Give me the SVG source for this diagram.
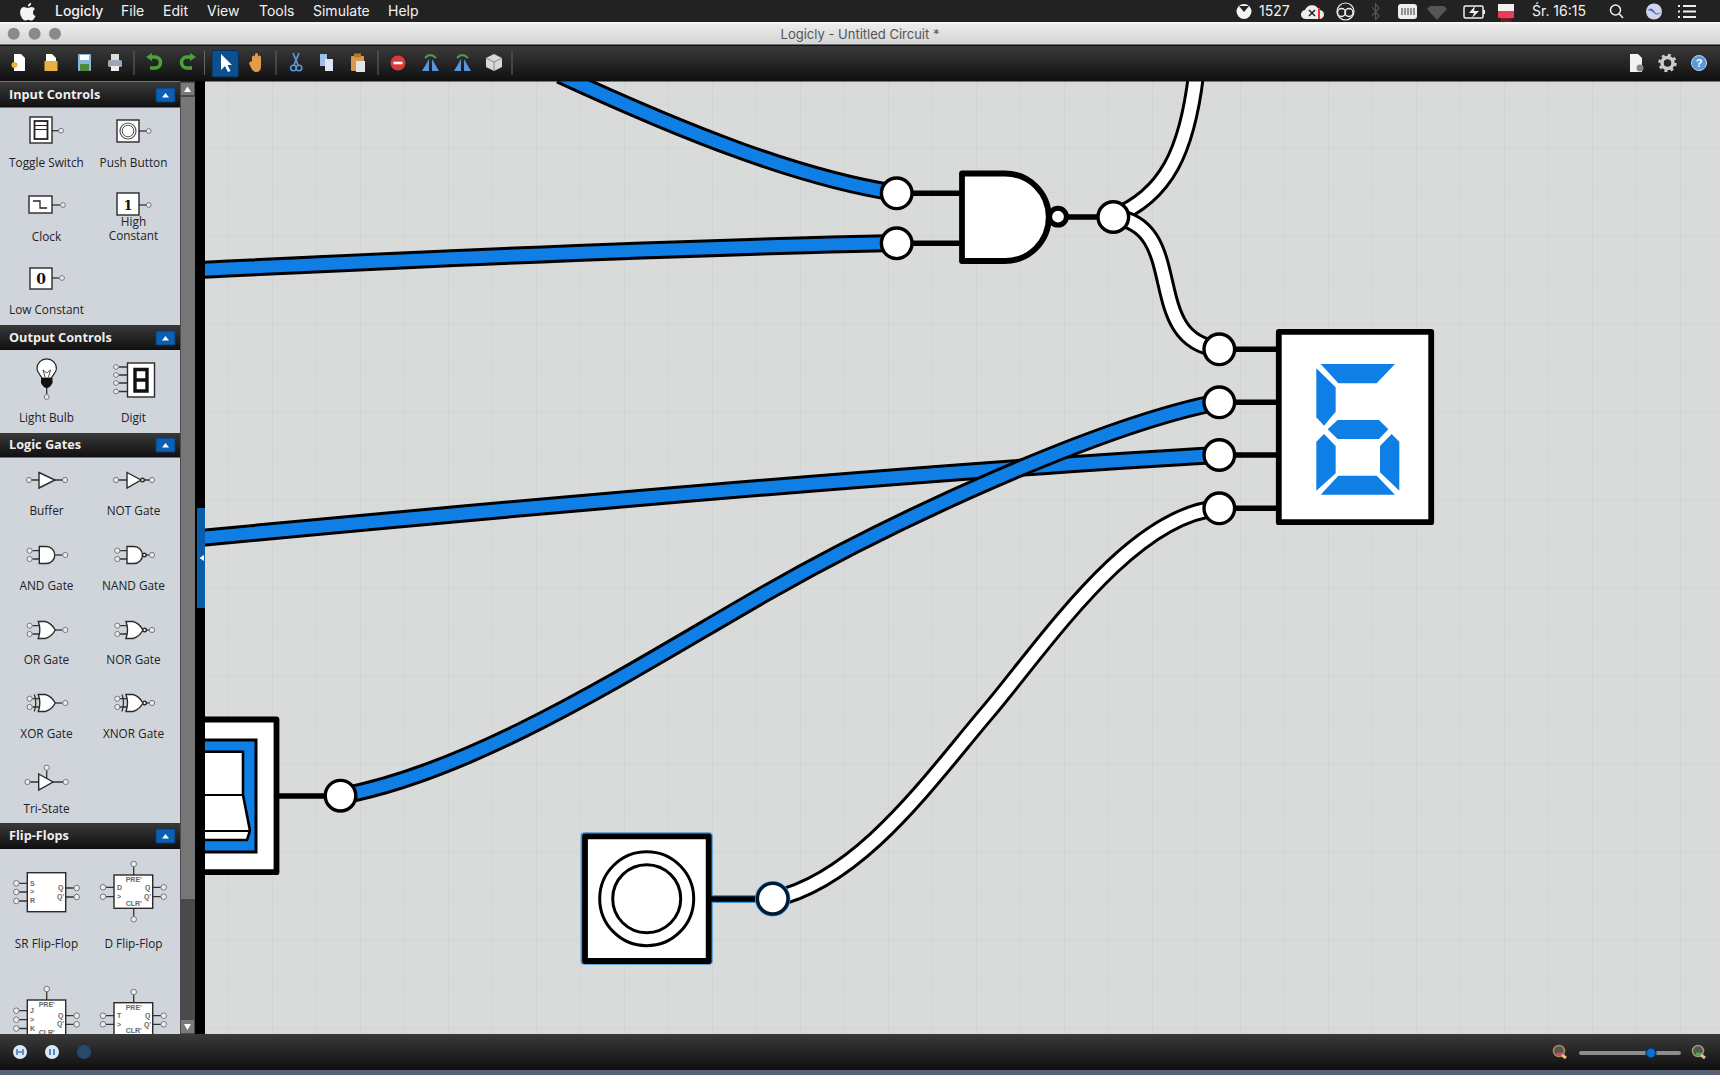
<svg xmlns="http://www.w3.org/2000/svg" width="1720" height="1075" viewBox="0 0 1720 1075">
<style>
text{font-family:"Open Sans","Liberation Sans",sans-serif}
.lb{font-size:11.800px;fill:#222;text-anchor:middle}
.hd{font-size:12.700px;font-weight:700;fill:#eee}
.mn{font-family:Inter,"Liberation Sans",sans-serif;font-size:14px;fill:#f2f2f2}
.w0{fill:none;stroke:#000;stroke-width:18}
.wb{fill:none;stroke:#0f7fe5;stroke-width:12}
.ww{fill:none;stroke:#fff;stroke-width:12}
.pin{fill:#fff;stroke:#000;stroke-width:3.4}
.lead{stroke:#000;stroke-width:5.5;fill:none}
.body{fill:#fff;stroke:#000;stroke-width:5.8;stroke-linejoin:round}
.seg{fill:#0f7fe5}
.ic{fill:#fff;stroke:#2a2a2a;stroke-width:1.4}
.il{stroke:#333;stroke-width:1.3;fill:none}
.ip{fill:#e9ecef;stroke:#777;stroke-width:1}
.ft{font-family:"Liberation Sans",sans-serif;font-size:7px;fill:#666;font-weight:700}
.sep{stroke:#666;stroke-width:1}
.hb{fill:#0b60b4;stroke:#083c72;stroke-width:1}
.tr{fill:#fff}
</style>
<defs>
<linearGradient id="gh" x1="0" y1="0" x2="0" y2="1"><stop offset="0" stop-color="#3a3a3a"/><stop offset="1" stop-color="#0f0f0f"/></linearGradient>
<linearGradient id="gt" x1="0" y1="0" x2="0" y2="1"><stop offset="0" stop-color="#ececec"/><stop offset="1" stop-color="#d2d3d3"/></linearGradient>
<pattern id="grid" patternUnits="userSpaceOnUse" x="228" y="147.5" width="44" height="44"><path d="M0 0V44M0 0H44" stroke="#cdcfcf" stroke-width="1.2" fill="none"/></pattern>
<g id="hbtn"><rect class="hb" x="0" y="0" width="19" height="14" rx="1"/><path class="tr" d="M6 9.5H13L9.5 5Z"/></g>
<g id="pinL"><path class="il" d="M-7 -4.3H0M-7 4H0"/><circle class="ip" cx="-9.7" cy="-4.3" r="2.6"/><circle class="ip" cx="-9.7" cy="4" r="2.6"/></g>
<g id="and"><use href="#pinL"/><path class="il" d="M16 0H23"/><circle class="ip" cx="26" cy="0" r="2.6"/><path class="ic" d="M0 -8.5H7A8.5 8.5 0 0 1 7 8.5H0Z"/></g>
<g id="nand"><use href="#pinL"/><path class="il" d="M18 0H22"/><circle class="ip" cx="25" cy="0" r="2.6"/><path class="ic" d="M0 -8.5H7A8.5 8.5 0 0 1 7 8.5H0Z"/><circle class="ic" cx="17.3" cy="0" r="1.8"/></g>
<path id="orb" class="ic" d="M-1 -8.5H6Q12 -7 16 0Q12 7 6 8.5H-1Q2 0 -1 -8.5Z"/>
<g id="or"><use href="#pinL"/><path class="il" d="M16 0H23"/><circle class="ip" cx="26" cy="0" r="2.6"/><use href="#orb"/></g>
<g id="nor"><use href="#pinL"/><path class="il" d="M19 0H22"/><circle class="ip" cx="25" cy="0" r="2.6"/><use href="#orb"/><circle class="ic" cx="17.6" cy="0" r="1.8"/></g>
<g id="xor"><use href="#or"/><path class="il" d="M-5 -8.5Q-2 0 -5 8.5"/></g>
<g id="xnor"><use href="#nor"/><path class="il" d="M-5 -8.5Q-2 0 -5 8.5"/></g>
</defs>

<rect x="0" y="0" width="1720" height="1075" fill="#5a6276"/>
<rect id="canvas" x="205" y="81" width="1515" height="953" fill="#d9dbdb"/>
<rect x="205" y="81" width="1515" height="953" fill="url(#grid)"/>

<g id="connectors">
<path class="w0" d="M560 75C690 135 800 178 896 193"/><path class="wb" d="M560 75C690 135 800 178 896 193"/>
<path class="w0" d="M200 270C500 255 700 247 896 243"/><path class="wb" d="M200 270C500 255 700 247 896 243"/>
<path class="w0" d="M1113 217C1167 195 1187 150 1196 75"/><path class="ww" d="M1113 217C1167 195 1187 150 1196 75"/>
<path class="w0" d="M1113 217C1190 225 1140 340 1219 349"/><path class="ww" d="M1113 217C1190 225 1140 340 1219 349"/>
<path class="w0" d="M200 538C600 500 950 470 1219 455"/><path class="wb" d="M200 538C600 500 950 470 1219 455"/>
<path class="w0" d="M341 796C480 770 640 665 768 592C896 519 1100 425 1219 402"/><path class="wb" d="M341 796C480 770 640 665 768 592C896 519 1100 425 1219 402"/>
<path class="w0" d="M773 899C860 880 930 780 987 713S1130 515 1219 508"/><path class="ww" d="M773 899C860 880 930 780 987 713S1130 515 1219 508"/>
</g>

<g id="nand-gate">
<path class="lead" d="M912 193.300H964M912 243.300H964M1066 217H1100"/>
<path class="body" d="M962 173.500H1005A43.700 43.700 0 0 1 1005 261H962Z"/>
<circle cx="1058" cy="216.700" r="8.400" fill="#fff" stroke="#000" stroke-width="5"/>
<circle class="pin" cx="896.700" cy="193.300" r="15.300"/>
<circle class="pin" cx="896.700" cy="243.300" r="15.300"/>
<circle class="pin" cx="1113.300" cy="217" r="15.300"/>
</g>

<g id="digit">
<path class="lead" d="M1234 349.300H1280M1234 402.300H1280M1234 455H1280M1234 508.300H1280"/>
<rect class="body" x="1278.800" y="331.800" width="152.400" height="190.400"/>
<g transform="translate(1180 310) scale(.33333)">
<polygon class="seg" points="422,162 645,162 590,220 475,220"/>
<polygon class="seg" points="409,175 467,232 467,305 432,347 409,322"/>
<polygon class="seg" points="443,358 473,330 597,330 625,358 597,387 473,387"/>
<polygon class="seg" points="432,372 467,408 467,490 409,542 409,395"/>
<polygon class="seg" points="635,372 658,395 658,542 600,487 600,408"/>
<polygon class="seg" points="475,497 590,497 645,554 422,554"/>
</g>
<circle class="pin" cx="1219.300" cy="349.300" r="15.300"/>
<circle class="pin" cx="1219.300" cy="402.300" r="15.300"/>
<circle class="pin" cx="1219.300" cy="455" r="15.300"/>
<circle class="pin" cx="1219.300" cy="508.300" r="15.300"/>
</g>

<g id="toggle-switch">
<path class="lead" d="M276 796H325"/>
<rect class="body" x="180" y="719.500" width="96.500" height="152.700"/>
<rect x="180" y="740" width="76" height="112" fill="#0f7fe5" stroke="#000" stroke-width="3"/>
<path d="M180 751.700H243V795L250 830.700L247 840H180Z" fill="#fff" stroke="#000" stroke-width="2.600" stroke-linejoin="round"/>
<path d="M180 795H243M180 831H250" stroke="#000" stroke-width="2" fill="none"/>
<circle class="pin" cx="340.500" cy="795.700" r="15.300"/>
</g>

<g id="push-button">
<path d="M712 899H757" stroke="#3f95e0" stroke-width="8"/>
<rect x="581.300" y="833" width="130.700" height="131" rx="3" fill="none" stroke="#3f95e0" stroke-width="1.500"/>
<path class="lead" d="M708 899H757"/>
<rect class="body" x="585" y="836.300" width="123.700" height="124.700" stroke-width="6"/>
<circle cx="646.700" cy="898.700" r="47" fill="#fff" stroke="#000" stroke-width="3"/>
<circle cx="646.700" cy="898.700" r="34" fill="#fff" stroke="#000" stroke-width="3"/>
<circle cx="772.700" cy="898.700" r="17" fill="none" stroke="#3f95e0" stroke-width="1.500"/>
<circle class="pin" cx="772.700" cy="898.700" r="15.300" style="stroke:#001a33"/>
</g>

<g id="sidebar">
<rect x="0" y="81" width="180" height="953" fill="#d0d5dc"/>
<rect x="180" y="81" width="15" height="953" fill="#4a4a4a"/>
<rect x="181" y="83" width="13" height="12" fill="#7a7a7a"/><path class="tr" d="M184 92H191L187.500 86.500Z"/>
<rect x="181" y="97" width="14" height="802" fill="#767676"/>
<rect x="181" y="1020" width="13" height="13" fill="#7a7a7a"/><path class="tr" d="M184 1024H191L187.500 1030Z"/>
<rect x="195" y="81" width="10" height="953" fill="#000"/>
<rect x="197" y="508" width="8" height="100" fill="#0b5cab"/><path class="tr" d="M204 555V561L199.500 558Z"/>

<rect x="0" y="82" width="180" height="25.500" fill="url(#gh)"/>
<rect x="0" y="325" width="180" height="25" fill="url(#gh)"/>
<rect x="0" y="433" width="180" height="24.500" fill="url(#gh)"/>
<rect x="0" y="823" width="180" height="26" fill="url(#gh)"/>
<text class="hd" x="9" y="99">Input Controls</text>
<text class="hd" x="9" y="342">Output Controls</text>
<text class="hd" x="9" y="449">Logic Gates</text>
<text class="hd" x="9" y="840">Flip-Flops</text>
<use href="#hbtn" x="156" y="88"/><use href="#hbtn" x="156" y="331"/><use href="#hbtn" x="156" y="438"/><use href="#hbtn" x="156" y="829"/>

<g id="pal-toggle"><path class="il" d="M52 130.700H59"/><circle class="ip" cx="61" cy="130.700" r="2.400"/><rect class="ic" x="30" y="117" width="22" height="26"/><rect x="34.500" y="121" width="13" height="18" fill="#fff" stroke="#222" stroke-width="1.800"/><path d="M35 125.500H47M35 129.500H47" stroke="#222" stroke-width="1.200"/></g>
<g id="pal-push"><path class="il" d="M139 131H146"/><circle class="ip" cx="148.700" cy="131" r="2.400"/><rect class="ic" x="117" y="120" width="22" height="22"/><circle cx="128" cy="131" r="8" fill="#fff" stroke="#555" stroke-width="1.200"/><circle cx="128" cy="131" r="5.800" fill="#fff" stroke="#555" stroke-width="1"/></g>
<g id="pal-clock"><path class="il" d="M52 205H60"/><circle class="ip" cx="63" cy="205" r="2.400"/><rect class="ic" x="29" y="196" width="23" height="17"/><path d="M33 201H40V208H47" fill="none" stroke="#222" stroke-width="1.300"/></g>
<g id="pal-high"><path class="il" d="M139 205H146"/><circle class="ip" cx="148.700" cy="205" r="2.400"/><rect class="ic" x="117" y="193" width="22" height="22"/><text x="128" y="209.500" text-anchor="middle" style="font-family:'DejaVu Serif',serif;font-weight:700;font-size:13px" fill="#111">1</text></g>
<g id="pal-low"><path class="il" d="M52 278H59"/><circle class="ip" cx="62" cy="278" r="2.400"/><rect class="ic" x="30" y="268" width="22" height="21"/><text x="41" y="283.500" text-anchor="middle" style="font-family:'DejaVu Serif',serif;font-weight:700;font-size:14px" fill="#111">0</text></g>
<g id="pal-bulb"><path class="il" d="M46.700 386V394"/><circle class="ip" cx="46.700" cy="397" r="2.400"/><path d="M42 378C39 373 37 372 37 368.500A9.700 9.700 0 0 1 56.400 368.500C56.400 372 54 373 51.400 378Z" fill="#fff" stroke="#222" stroke-width="1.200"/><path d="M43 370L45 377M50.500 370L48.500 377M43 370L46.700 373L50.500 370" stroke="#222" stroke-width=".8" fill="none"/><path d="M41 378H52.500V383Q50 388 46.700 388Q43.500 388 41 383Z" fill="#111"/></g>
<g id="pal-digit"><path class="il" d="M119 367H127M119 375H127M119 383H127M119 391.500H127"/><circle class="ip" cx="116" cy="367" r="2.400"/><circle class="ip" cx="116" cy="375" r="2.400"/><circle class="ip" cx="116" cy="383" r="2.400"/><circle class="ip" cx="116" cy="391.500" r="2.400"/><rect class="ic" x="127.500" y="363" width="27" height="34"/><path d="M135 369.500H147V391H135ZM135 380H147" fill="none" stroke="#111" stroke-width="3.400"/></g>

<g id="pal-buffer"><path class="il" d="M31 480H39M55 480H63"/><circle class="ip" cx="29" cy="480" r="2.600"/><circle class="ip" cx="65" cy="480" r="2.600"/><path class="ic" d="M39 472.500L55 480L39 488Z"/></g>
<g id="pal-not"><path class="il" d="M118 480H127M144 480H150"/><circle class="ip" cx="116" cy="480" r="2.600"/><circle class="ip" cx="152" cy="480" r="2.600"/><path class="ic" d="M127 472.500L141 480L127 488Z"/><circle class="ic" cx="142.500" cy="480" r="1.800"/></g>
<use href="#and" x="39.300" y="555"/><use href="#nand" x="127" y="555"/>
<use href="#or" x="39.300" y="630"/><use href="#nor" x="127" y="630"/>
<use href="#xor" x="39.300" y="703"/><use href="#xnor" x="127" y="703"/>
<g id="pal-tristate"><path class="il" d="M30 782H39M53 782H63M46.700 770V778"/><circle class="ip" cx="27.500" cy="782" r="2.600"/><circle class="ip" cx="65.700" cy="782" r="2.600"/><circle class="ip" cx="46.700" cy="767.700" r="2.600"/><path class="ic" d="M38.700 774L53 782L38.700 790Z"/></g>

<g id="pal-sr"><path class="il" d="M19 883.300H27M19 892H27M19 901H27M66 888H74M66 897H74"/><circle class="ip" cx="16.300" cy="883.300" r="2.800"/><circle class="ip" cx="16.300" cy="892" r="2.800"/><circle class="ip" cx="16.300" cy="901" r="2.800"/><circle class="ip" cx="76.700" cy="888" r="2.800"/><circle class="ip" cx="76.700" cy="897" r="2.800"/><rect class="ic" x="27.300" y="872.700" width="38.400" height="39"/>
<text class="ft" x="30" y="886">S</text><text class="ft" x="30" y="894">&gt;</text><text class="ft" x="30" y="903">R</text><text class="ft" x="58" y="890">Q</text><text class="ft" x="57" y="899">Q'</text></g>
<g id="pal-d"><path class="il" d="M106 887.300H114M106 896.700H114M153 887.300H161M153 896.700H161M133.700 866V875M133.700 908V917"/><circle class="ip" cx="103" cy="887.300" r="2.800"/><circle class="ip" cx="103" cy="896.700" r="2.800"/><circle class="ip" cx="163.700" cy="887.300" r="2.800"/><circle class="ip" cx="163.700" cy="896.700" r="2.800"/><circle class="ip" cx="133.700" cy="864" r="2.800"/><circle class="ip" cx="133.700" cy="919.300" r="2.800"/><rect class="ic" x="114" y="875" width="38.700" height="33.300"/>
<text class="ft" x="117" y="890">D</text><text class="ft" x="117" y="899">&gt;</text><text class="ft" x="145" y="890">Q</text><text class="ft" x="144" y="899">Q'</text><text class="ft" x="133.700" y="882" text-anchor="middle">PRE'</text><text class="ft" x="133.700" y="906" text-anchor="middle">CLR'</text></g>
<g id="pal-jk"><path class="il" d="M19 1010.700H27M19 1019.700H27M19 1028.500H27M66 1015.700H74M66 1024.300H74M46.700 991V1000"/><circle class="ip" cx="16.300" cy="1010.700" r="2.800"/><circle class="ip" cx="16.300" cy="1019.700" r="2.800"/><circle class="ip" cx="16.300" cy="1028.500" r="2.800"/><circle class="ip" cx="76.700" cy="1015.700" r="2.800"/><circle class="ip" cx="76.700" cy="1024.300" r="2.800"/><circle class="ip" cx="46.700" cy="989" r="2.800"/><rect class="ic" x="27.300" y="1000" width="38.400" height="45"/>
<text class="ft" x="30" y="1013">J</text><text class="ft" x="30" y="1022">&gt;</text><text class="ft" x="30" y="1031">K</text><text class="ft" x="58" y="1018">Q</text><text class="ft" x="57" y="1026">Q'</text><text class="ft" x="46.700" y="1007" text-anchor="middle">PRE'</text><text class="ft" x="46.700" y="1035" text-anchor="middle">CLR'</text></g>
<g id="pal-t"><path class="il" d="M106 1015.700H114M106 1024.300H114M153 1015.700H161M153 1024.300H161M133.700 994V1003"/><circle class="ip" cx="103" cy="1015.700" r="2.800"/><circle class="ip" cx="103" cy="1024.300" r="2.800"/><circle class="ip" cx="163.700" cy="1015.700" r="2.800"/><circle class="ip" cx="163.700" cy="1024.300" r="2.800"/><circle class="ip" cx="133.700" cy="992" r="2.800"/><rect class="ic" x="114" y="1002.700" width="38.700" height="42"/>
<text class="ft" x="117" y="1018">T</text><text class="ft" x="117" y="1027">&gt;</text><text class="ft" x="145" y="1018">Q</text><text class="ft" x="144" y="1027">Q'</text><text class="ft" x="133.700" y="1010" text-anchor="middle">PRE'</text><text class="ft" x="133.700" y="1033" text-anchor="middle">CLR'</text></g>

<text class="lb" x="46.500" y="167">Toggle Switch</text>
<text class="lb" x="133.500" y="167">Push Button</text>
<text class="lb" x="46.500" y="240.500">Clock</text>
<text class="lb" x="133.500" y="225.500">High</text>
<text class="lb" x="133.500" y="240">Constant</text>
<text class="lb" x="46.500" y="314">Low Constant</text>
<text class="lb" x="46.500" y="421.500">Light Bulb</text>
<text class="lb" x="133.500" y="421.500">Digit</text>
<text class="lb" x="46.500" y="515">Buffer</text>
<text class="lb" x="133.500" y="515">NOT Gate</text>
<text class="lb" x="46.500" y="589.500">AND Gate</text>
<text class="lb" x="133.500" y="589.500">NAND Gate</text>
<text class="lb" x="46.500" y="664">OR Gate</text>
<text class="lb" x="133.500" y="664">NOR Gate</text>
<text class="lb" x="46.500" y="738">XOR Gate</text>
<text class="lb" x="133.500" y="738">XNOR Gate</text>
<text class="lb" x="46.500" y="813">Tri-State</text>
<text class="lb" x="46.500" y="948">SR Flip-Flop</text>
<text class="lb" x="133.500" y="948">D Flip-Flop</text>
</g>

<g id="menubar">
<rect x="0" y="0" width="1720" height="22" fill="#222"/>
<path fill="#f4f4f4" d="M24 7c1.500 0 2.300.9 3.800.9s2.400-.9 3.800-.9c1.400 0 2.700.8 3.400 2c-3 1.800-2.500 5.800.5 7c-.7 2-2.300 4.500-3.800 4.500c-1.300 0-1.800-.8-3.300-.8s-2.100.8-3.300.8c-2 0-5-4.500-5-8c0-3.700 2.300-5.500 4.100-5.500zM27.800 6.500c0-2 1.500-3.500 3.400-3.800c.2 2-1.400 3.800-3.400 3.800z"/>
<text class="mn" x="55" y="16" font-weight="500">Logicly</text>
<text class="mn" x="121" y="16">File</text>
<text class="mn" x="163" y="16">Edit</text>
<text class="mn" x="207" y="16">View</text>
<text class="mn" x="259" y="16">Tools</text>
<text class="mn" x="313" y="16">Simulate</text>
<text class="mn" x="388" y="16">Help</text>
<circle cx="1244" cy="11.500" r="7.500" fill="#f2f2f2"/><path d="M1239 6L1244 12L1249 6Z" fill="#222"/>
<text class="mn" x="1259" y="16">1527</text>
<path d="M1306 19A4.500 4.500 0 0 1 1305 10A7.500 7.500 0 0 1 1319 10A4.500 4.500 0 0 1 1320 19Z" fill="#eee"/><path d="M1309 10L1315 16M1315 10L1309 16" stroke="#222" stroke-width="1.500"/><path d="M1319 8V19" stroke="#e33" stroke-width="2"/>
<g fill="none" stroke="#eee" stroke-width="1.500"><circle cx="1341.500" cy="12.500" r="4"/><circle cx="1349" cy="12.500" r="4"/><circle cx="1345.500" cy="11.500" r="8.500" stroke-width="1.200"/></g>
<path d="M1372 7L1379 16L1375.500 19.500V4L1379 8L1372 16" fill="none" stroke="#555" stroke-width="1.200"/>
<rect x="1398" y="4" width="19" height="15" rx="3" fill="#eee"/><path d="M1402 8V15M1405 8V15M1408 8V15M1411 8V15M1414 8V15" stroke="#333" stroke-width="1"/>
<path d="M1430 6H1444L1447 9L1437 20L1427 9Z" fill="#555"/>
<rect x="1464" y="6" width="19" height="12" rx="1.500" fill="none" stroke="#eee" stroke-width="1.500"/><rect x="1483" y="10" width="2" height="4" fill="#eee"/><path d="M1475 6L1469 13H1474L1472 18L1479 11H1474Z" fill="#eee"/>
<rect x="1498" y="4" width="16" height="7" fill="#f0f0f0"/><rect x="1498" y="11" width="16" height="7" fill="#ea3a5a"/>
<text x="1506" y="22" text-anchor="middle" style="font-family:'Liberation Sans',sans-serif;font-size:5px" fill="#c22">PRO</text>
<text class="mn" x="1532" y="16">Śr. 16:15</text>
<circle cx="1615.500" cy="10" r="5" fill="none" stroke="#eee" stroke-width="1.500"/><path d="M1619 13.500L1623 18" stroke="#eee" stroke-width="1.500"/>
<circle cx="1654" cy="11.500" r="8" fill="#cfd6ec"/><path d="M1647 11Q1651 6 1654 11T1661 11Q1658 17 1654 13T1647 11Z" fill="#4a5fb8"/>
<path d="M1678 6H1680M1678 11.500H1680M1678 17H1680M1683 6H1696M1683 11.500H1696M1683 17H1696" stroke="#eee" stroke-width="2"/>
</g>

<g id="titlebar">
<rect x="0" y="22" width="1720" height="2" fill="#f6f6f6"/>
<rect x="0" y="24" width="1720" height="21" fill="url(#gt)"/>
<rect x="0" y="44.500" width="1720" height="1.500" fill="#111"/>
<circle cx="13.700" cy="33.700" r="6" fill="#8a8a8a"/><circle cx="34.600" cy="33.700" r="6" fill="#8a8a8a"/><circle cx="55" cy="33.700" r="6" fill="#8a8a8a"/>
<text x="860" y="38.500" text-anchor="middle" style="font-family:Inter,'Liberation Sans',sans-serif;font-size:13px" fill="#555">Logicly - Untitled Circuit *</text>
</g>

<g id="toolbar">
<rect x="0" y="46" width="1720" height="35.500" fill="url(#gh)"/>
<path class="sep" d="M134 51V75M204.500 51V75M276 51V75M378 51V75M512 51V75"/>
<path d="M14 54H21L25 58V71H14Z" fill="#fff"/><circle cx="14.500" cy="65" r="3" fill="#e9b43c"/>
<path d="M46 54H52L56 58V61H46Z" fill="#fff"/><rect x="44.500" y="61" width="13" height="10" fill="#e8b040"/>
<rect x="78" y="54" width="13" height="17" rx="1" fill="#8db4dc"/><rect x="80" y="55" width="9" height="5" fill="#fff"/><rect x="80" y="64" width="9" height="7" fill="#4f8a3c"/>
<path d="M111 54H119V60H111Z" fill="#ddd"/><rect x="108" y="60" width="14" height="7" rx="1.500" fill="#9aa8b8"/><rect x="111" y="66" width="8" height="5" fill="#eee"/>
<path d="M150 57H155A5.500 5.500 0 0 1 155 68H150" fill="none" stroke="#4ca23a" stroke-width="3.500"/><path d="M146 57L152 53V61Z" fill="#4ca23a"/>
<path d="M192 57H187A5.500 5.500 0 0 0 187 68H192" fill="none" stroke="#4ca23a" stroke-width="3.500"/><path d="M196 57L190 53V61Z" fill="#4ca23a"/>
<rect x="212" y="50.500" width="26.500" height="26.500" rx="2" fill="#0d4f8f" stroke="#072e57"/>
<path d="M221 54V70L225 66L228 72L230.500 71L227.500 65H232Z" fill="#fff"/>
<path d="M252 62V57a1.500 1.500 0 0 1 3 0V54.500a1.500 1.500 0 0 1 3 0V57a1.500 1.500 0 0 1 3 0V66Q261 72 256 72Q252 72 249 63Q251 60 252 62Z" fill="#e39a4a"/>
<path d="M299 53L294 65M293 53L298 65" stroke="#5a95d5" stroke-width="1.800"/><circle cx="293.500" cy="68" r="2.800" fill="none" stroke="#5a95d5" stroke-width="1.600"/><circle cx="299" cy="68" r="2.800" fill="none" stroke="#5a95d5" stroke-width="1.600"/>
<path d="M320 54H327V66H320Z" fill="#9dc0e8"/><path d="M325 59H333V71H325Z" fill="#dbe7f5"/>
<rect x="351" y="56" width="13" height="15" rx="1" fill="#d89a4a"/><rect x="354" y="53.500" width="7" height="4" fill="#b9782f"/><rect x="356" y="61" width="9" height="11" fill="#dfe5ea"/>
<circle cx="398" cy="63" r="7.500" fill="#d93a3a"/><rect x="393.500" y="61.700" width="9" height="2.600" fill="#fff"/>
<path d="M422 71L429 59V71ZM432 59L439 71H432Z" fill="#5a95d5"/><path d="M425 58Q430 52 436 58" fill="none" stroke="#4ca23a" stroke-width="2"/>
<path d="M454 71L461 59V71ZM464 59L471 71H464Z" fill="#5a95d5"/><path d="M457 58Q462 52 468 58" fill="none" stroke="#4ca23a" stroke-width="2"/>
<path d="M494 54L502 58V67L494 71L486 67V58Z" fill="#d8d8d8"/><path d="M486 58L494 62L502 58M494 62V71" stroke="#888" fill="none"/>
<path d="M1630 54H1638L1642 58V72H1630Z" fill="#f2f2f2"/><circle cx="1640" cy="68" r="3.500" fill="#888"/>
<circle cx="1667.500" cy="63" r="5.500" fill="none" stroke="#ccc" stroke-width="3.500"/><circle cx="1667.500" cy="63" r="8" fill="none" stroke="#ccc" stroke-width="2.500" stroke-dasharray="3 3.300"/>
<circle cx="1699" cy="63" r="7.500" fill="#5a9ad8" stroke="#b9d6f2"/><text x="1699" y="67" text-anchor="middle" style="font-family:'Liberation Sans',sans-serif;font-weight:700;font-size:11px" fill="#fff">?</text>
</g>

<g id="statusbar">
<rect x="0" y="1034" width="1720" height="36" fill="url(#gh)"/>
<circle cx="20" cy="1052" r="7" fill="#dbe8f6"/><path d="M17 1049V1055M23 1049V1055M17 1052H23" stroke="#4a7ec0" stroke-width="1.600"/>
<circle cx="52" cy="1052" r="7" fill="#dbe8f6"/><path d="M50 1049V1055M54 1049V1055" stroke="#4a7ec0" stroke-width="1.800"/>
<circle cx="84" cy="1052" r="7" fill="#294a6b"/>
<circle cx="1559" cy="1051" r="5.500" fill="#555" stroke="#b08a50" stroke-width="1.500"/><path d="M1557 1054H1563" stroke="#e0445a" stroke-width="2.500"/><path d="M1562 1055L1566 1058" stroke="#e8c090" stroke-width="3"/>
<rect x="1579" y="1051" width="102" height="4" rx="2" fill="#8c8c8c"/>
<circle cx="1651" cy="1053" r="5" fill="#0f6fd0" stroke="#07305c" stroke-width="1.200"/>
<circle cx="1698" cy="1051" r="5.500" fill="#555" stroke="#a09a70" stroke-width="1.500"/><path d="M1696 1054H1702" stroke="#4cae4c" stroke-width="2.500"/><path d="M1701 1055L1705 1058" stroke="#e8c090" stroke-width="3"/>
</g>
</svg>
